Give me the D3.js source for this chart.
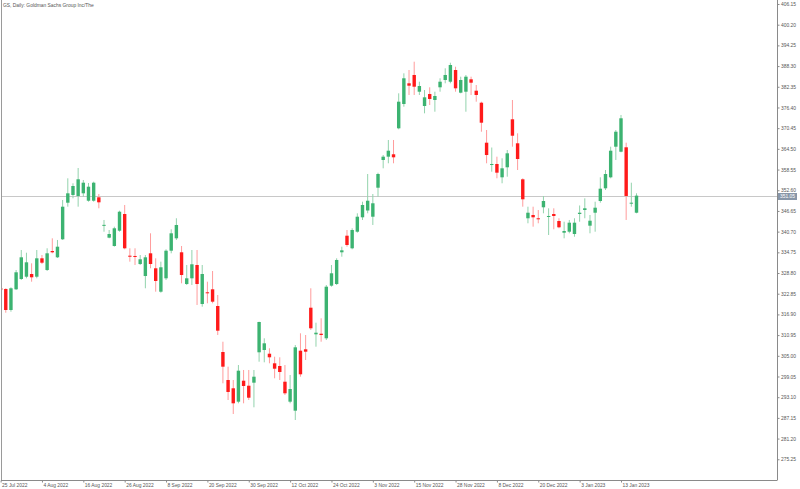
<!DOCTYPE html>
<html>
<head>
<meta charset="utf-8">
<script src="https://cdn.jsdelivr.net/npm/d3@7"></script>
<style>
  html, body { margin: 0; padding: 0; background: #fff; }
  svg { display: block; }
  text { font-family: "Liberation Sans", Arial, sans-serif; }
</style>
</head>
<body>
<svg id="chart" width="800" height="489"></svg>
<script>
const title = "GS, Daily:  Goldman Sachs Group Inc/The";

const dates = [
  "2022-07-25","2022-07-26","2022-07-27","2022-07-28","2022-07-29",
  "2022-08-01","2022-08-02","2022-08-03","2022-08-04","2022-08-05","2022-08-08","2022-08-09","2022-08-10","2022-08-11","2022-08-12",
  "2022-08-15","2022-08-16","2022-08-17","2022-08-18","2022-08-19","2022-08-22","2022-08-23","2022-08-24","2022-08-25","2022-08-26",
  "2022-08-29","2022-08-30","2022-08-31",
  "2022-09-01","2022-09-02","2022-09-06","2022-09-07","2022-09-08","2022-09-09","2022-09-12","2022-09-13","2022-09-14","2022-09-15",
  "2022-09-16","2022-09-19","2022-09-20","2022-09-21","2022-09-22","2022-09-23","2022-09-26","2022-09-27","2022-09-28","2022-09-29","2022-09-30",
  "2022-10-03","2022-10-04","2022-10-05","2022-10-06","2022-10-07","2022-10-10","2022-10-11","2022-10-12","2022-10-13","2022-10-14",
  "2022-10-17","2022-10-18","2022-10-19","2022-10-20","2022-10-21","2022-10-24","2022-10-25","2022-10-26","2022-10-27","2022-10-28","2022-10-31",
  "2022-11-01","2022-11-02","2022-11-03","2022-11-04","2022-11-07","2022-11-08","2022-11-09","2022-11-10","2022-11-11","2022-11-14",
  "2022-11-15","2022-11-16","2022-11-17","2022-11-18","2022-11-21","2022-11-22","2022-11-23","2022-11-25","2022-11-28","2022-11-29","2022-11-30",
  "2022-12-01","2022-12-02","2022-12-05","2022-12-06","2022-12-07","2022-12-08","2022-12-09","2022-12-12","2022-12-13","2022-12-14",
  "2022-12-15","2022-12-16","2022-12-19","2022-12-20","2022-12-21","2022-12-22","2022-12-23","2022-12-27","2022-12-28","2022-12-29","2022-12-30",
  "2023-01-03","2023-01-04","2023-01-05","2023-01-06","2023-01-09","2023-01-10","2023-01-11","2023-01-12","2023-01-13",
  "2023-01-17","2023-01-18","2023-01-19"
];

const open = [
  324.50,324.21,318.17,324.12,327.08,327.74,328.52,327.74,333.03,329.67,
  335.13,333.32,338.50,349.02,351.24,350.95,351.72,349.59,349.59,350.57,
  342.55,338.96,336.57,340.97,345.77,333.78,333.70,331.39,327.94,334.47,
  330.16,323.43,327.28,335.22,338.78,334.76,325.64,327.28,331.11,319.89,
  323.26,324.12,319.32,306.09,298.04,295.66,291.81,297.84,296.40,297.27,
  306.01,306.67,305.60,302.84,302.07,297.55,291.81,289.22,306.47,306.87,
  318.83,311.18,311.35,310.03,325.16,325.64,334.76,339.53,335.91,340.68,
  344.82,346.78,344.99,353.33,361.30,362.25,362.94,370.41,377.40,383.35,
  385.74,380.93,376.82,380.27,378.55,382.20,384.30,383.81,387.17,380.65,
  380.93,384.50,381.22,377.77,366.27,359.86,360.15,356.32,359.20,373.00,
  366.10,355.75,344.54,345.48,344.54,347.70,344.99,345.77,343.76,340.39,
  340.68,340.02,345.77,346.92,342.41,346.14,349.51,353.16,356.32,365.12,
  363.68,364.95,348.85,346.14
];
const high = [
  325.10,324.41,324.70,329.67,335.42,334.64,331.59,335.42,333.98,335.91,
  338.78,338.30,349.80,356.03,354.60,359.00,355.55,354.68,355.06,351.52,
  344.05,341.17,342.12,346.72,348.36,335.91,335.91,333.98,333.98,340.22,
  333.03,332.06,335.62,341.37,344.54,336.57,331.11,335.42,335.42,331.11,
  326.30,329.38,322.48,309.05,301.87,298.04,302.35,300.92,300.92,300.92,
  314.81,310.03,307.16,304.74,304.57,302.35,299.48,308.10,311.47,310.98,
  324.41,314.52,315.78,325.36,331.11,333.03,336.37,341.17,341.66,345.97,
  349.31,357.27,351.52,357.64,362.73,367.05,367.05,380.47,386.22,387.17,
  389.56,383.81,381.42,382.20,380.93,384.79,387.66,389.27,388.12,385.25,
  385.74,385.25,382.86,378.06,369.92,364.89,362.25,361.79,364.17,378.55,
  368.97,356.03,347.87,347.87,346.92,350.95,347.41,347.41,344.54,343.56,
  344.05,344.54,348.22,350.28,345.48,349.31,356.32,358.42,365.12,369.92,
  374.24,366.27,354.77,351.72
];
const low = [
  323.10,317.39,317.68,323.92,326.79,327.28,326.30,327.28,331.39,329.38,
  334.47,333.12,338.30,347.87,350.28,347.87,350.75,349.31,349.31,347.41,
  340.68,338.78,336.37,340.68,335.62,332.06,331.11,331.11,324.41,330.16,
  323.43,323.14,326.79,334.47,338.30,325.84,325.36,325.36,319.61,319.12,
  320.10,320.10,310.98,297.09,292.29,288.27,291.34,291.34,292.29,290.19,
  303.30,303.13,302.84,298.53,298.04,293.73,291.34,286.54,298.99,303.79,
  312.42,307.62,309.05,309.54,324.87,325.36,333.49,336.37,335.62,340.39,
  344.05,345.97,342.61,350.75,358.91,360.35,360.35,370.12,376.62,379.99,
  379.99,379.99,374.72,377.11,375.18,380.93,383.35,383.35,380.93,380.47,
  375.18,379.99,378.06,369.43,360.35,357.93,356.04,354.60,356.49,365.12,
  358.42,347.87,343.10,342.12,343.10,345.97,339.73,341.37,341.66,338.78,
  340.22,339.24,343.56,344.54,340.22,340.68,349.02,352.67,356.03,361.30,
  363.51,344.05,347.87,345.97
];
const close = [
  323.90,318.17,324.41,329.01,333.32,331.88,327.57,333.03,331.77,334.47,
  334.76,336.37,347.87,351.72,353.82,355.75,354.77,353.62,354.77,349.13,
  342.65,340.02,341.66,346.43,335.91,333.49,333.41,332.75,333.32,331.39,
  326.51,330.45,335.22,340.22,342.61,328.23,327.28,331.31,325.64,328.52,
  322.97,320.56,312.22,301.87,294.60,291.34,300.72,296.32,292.95,298.99,
  314.72,308.59,304.57,301.29,300.34,294.22,295.45,307.44,299.68,306.18,
  312.91,311.64,310.98,324.87,328.72,332.55,335.33,336.86,341.17,344.99,
  348.36,349.59,348.85,357.27,362.25,363.97,362.07,378.06,384.79,382.66,
  382.37,382.57,379.32,378.84,379.70,383.81,385.74,388.61,381.91,384.30,
  385.25,383.52,379.99,372.02,362.73,360.15,357.65,358.91,363.22,368.28,
  361.58,350.00,346.14,344.82,344.25,349.51,345.20,345.20,341.95,340.88,
  343.27,343.27,346.14,347.41,343.84,347.58,353.05,357.27,363.97,369.43,
  373.29,350.95,349.02,351.05
];

const yTicks = [406.15,400.20,394.25,388.30,382.35,376.40,370.45,364.50,358.55,352.60,
  346.65,340.70,334.75,328.80,322.85,316.90,310.95,305.00,299.05,293.10,287.15,281.20,275.25];

const xTickDates = ["2022-07-25","2022-08-04","2022-08-16","2022-08-26","2022-09-08","2022-09-20",
  "2022-09-30","2022-10-12","2022-10-24","2022-11-03","2022-11-15","2022-11-28","2022-12-08",
  "2022-12-20","2023-01-03","2023-01-13"];

const bars = dates.map((d, i) => ({date: d, o: open[i], h: high[i], l: low[i], c: close[i]}));

const svg = d3.select("#chart");
const plotL = 1, plotR = 777, plotT = 0, plotB = 480;

const x = d3.scalePoint().domain(dates).range([0.6, 0.6 + (dates.length - 1) * 5.17]);
const y = d3.scaleLinear().domain([269.29, 407.30]).range([plotB, plotT]);

const green = "#3cb371", red = "#ff1a1a";
const greenWick = "#93d3ad", redWick = "#ff9c9c";

svg.append("defs").append("clipPath").attr("id", "plotClip")
  .append("rect").attr("x", plotL + 0.5).attr("y", plotT).attr("width", plotR - plotL - 0.5).attr("height", plotB - plotT);

// current price line
const last = close[close.length - 1];
svg.append("line")
  .attr("x1", plotL).attr("x2", plotR)
  .attr("y1", Math.round(y(last)) + 0.5).attr("y2", Math.round(y(last)) + 0.5)
  .attr("stroke", "#c8c8c8").attr("stroke-width", 1);

const g = svg.append("g").attr("clip-path", "url(#plotClip)");

const bw = 3.4;
g.selectAll("line.wick").data(bars).join("line")
  .attr("class", "wick")
  .attr("x1", d => x(d.date)).attr("x2", d => x(d.date))
  .attr("y1", d => y(d.h)).attr("y2", d => y(d.l))
  .attr("stroke", d => d.c >= d.o ? greenWick : redWick)
  .attr("stroke-width", 1);

g.selectAll("rect.body").data(bars).join("rect")
  .attr("class", "body")
  .attr("x", d => x(d.date) - bw / 2)
  .attr("width", bw)
  .attr("y", d => y(Math.max(d.o, d.c)))
  .attr("height", d => Math.max(1, Math.abs(y(d.o) - y(d.c))))
  .attr("fill", d => d.c >= d.o ? green : red);

// frame
svg.append("line").attr("x1", plotL + 0.5).attr("x2", plotL + 0.5).attr("y1", 0).attr("y2", plotB)
  .attr("stroke", "#9a9a9a");

// right axis
const yAxis = d3.axisRight(y).tickValues(yTicks).tickFormat(d3.format(".2f")).tickSize(2).tickPadding(1.5);
const ya = svg.append("g").attr("transform", `translate(${plotR + 0.5},0)`).call(yAxis);
ya.select(".domain").attr("stroke", "#8a8a8a").attr("d", `M0,0V${plotB}`);
ya.selectAll(".tick line").attr("stroke", "#8a8a8a");
ya.selectAll(".tick text").attr("font-size", 4.9).attr("fill", "#555")
  .attr("font-family", "'Liberation Sans', Arial, sans-serif");

// bottom axis
const fmt = d3.timeFormat("%-d %b %Y");
const parse = d3.timeParse("%Y-%m-%d");
const xAxis = d3.axisBottom(x).tickValues(xTickDates).tickFormat(d => fmt(parse(d))).tickSize(2).tickPadding(1.5);
const xa = svg.append("g").attr("transform", `translate(0,${plotB + 0.5})`).call(xAxis);
xa.select(".domain").attr("stroke", "#8a8a8a").attr("d", `M${plotL},0H${plotR + 0.5}`);
xa.selectAll(".tick line").attr("stroke", "#8a8a8a");
xa.selectAll(".tick text").attr("font-size", 4.9).attr("fill", "#555")
  .attr("text-anchor", "start").attr("dx", 1)
  .attr("font-family", "'Liberation Sans', Arial, sans-serif");

// current price label on the axis
const ly = Math.round(y(last)) + 0.5;
svg.append("rect").attr("x", plotR + 1).attr("y", ly - 3.5).attr("width", 19).attr("height", 7)
  .attr("fill", "#8796a8");
svg.append("text").attr("x", plotR + 3).attr("y", ly + 1.8)
  .attr("font-size", 4.9).attr("fill", "#ffffff")
  .text(d3.format(".2f")(last));

// title
svg.append("text").attr("x", 3).attr("y", 7).attr("font-size", 4.9).attr("fill", "#555").text(title);
</script>
</body>
</html>
